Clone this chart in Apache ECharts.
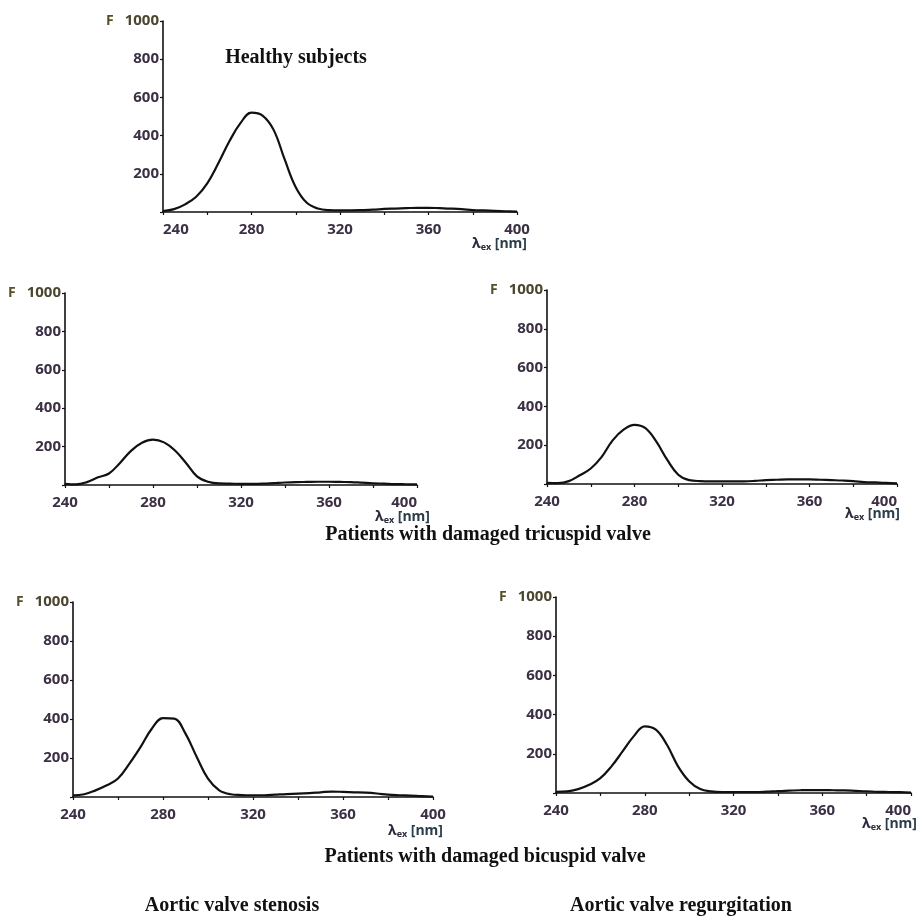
<!DOCTYPE html>
<html>
<head>
<meta charset="utf-8">
<style>
  html, body { margin: 0; padding: 0; background: #ffffff; }
  #chart { width: 919px; height: 918px; }
</style>
<script src="https://cdn.jsdelivr.net/npm/echarts@6/dist/echarts.min.js"></script>
</head>
<body>
<div id="chart"></div>
<script>
// Excitation wavelengths (nm)
const wavelengths = [240,245,250,255,260,265,270,275,280,285,290,295,300,305,310,315,320,325,330,335,340,345,350,355,360,365,370,375,380,385,390,395,400];

// Fluorescence intensity F for each panel
const healthy      = [5,15,40,80,150,255,370,465,520,505,430,275,130,48,18,10,9,9,10,12,16,18,20,22,22,20,18,15,10,8,6,4,2];
const tricuspidA   = [6,3,15,40,60,115,178,220,236,222,180,115,45,17,8,7,6,6,7,10,13,15,16,17,17,16,15,12,9,7,5,4,3];
const tricuspidB   = [6,5,15,45,80,140,225,280,305,288,218,124,48,20,15,14,14,14,14,16,20,22,24,24,24,22,20,18,15,10,8,6,3];
const stenosis     = [8,14,34,60,95,170,256,350,405,402,325,205,94,34,14,10,9,9,12,15,17,20,24,28,26,24,22,18,12,9,7,4,2];
const regurgitation= [6,8,20,42,76,136,212,289,340,323,246,136,60,20,8,5,5,5,5,7,10,12,14,15,15,14,13,11,9,6,5,4,2];

// Axis settings / tick labels
const xMin = 240, xMax = 400, xStep = 40;
const yMin = 0, yMax = 1000, yStep = 200;
const yAxisName = 'F';

// Titles
const titles = [
  { text: 'Healthy subjects', x: 296, y: 58 },
  { text: 'Patients with damaged tricuspid valve', x: 488, y: 535 },
  { text: 'Patients with damaged bicuspid valve', x: 485, y: 857 },
  { text: 'Aortic valve stenosis', x: 232, y: 906 },
  { text: 'Aortic valve regurgitation', x: 681, y: 906 }
];

const panelSeries = [healthy, tricuspidA, tricuspidB, stenosis, regurgitation];

// Layout (styling only)
const grids = [
  { left: 163, top: 21, width: 354, height: 191 },
  { left: 65, top: 293, width: 352, height: 192 },
  { left: 547, top: 290, width: 350, height: 194 },
  { left: 73, top: 602, width: 360, height: 195 },
  { left: 556, top: 597, width: 355, height: 196 }
];
const nameGaps = [10, 13, 3, 10, 6];
const namePadTop = [25, 25, 23, 27, 24];
const alignMin = [true, false, false, false, false];
const alignMax = [false, true, true, false, true];

const labelColor = '#3b3044';
const labelFont = { fontFamily: 'Open Sans', fontWeight: 'bold', fontSize: 15, color: labelColor };

const xAxes = grids.map((g, i) => ({
  gridIndex: i,
  type: 'value',
  min: xMin, max: xMax, interval: xStep,
  axisLine: { show: true, onZero: false, lineStyle: { color: '#111', width: 1.6 } },
  axisTick: { show: true, length: 3, lineStyle: { color: '#111', width: 1.2 } },
  minorTick: { show: true, splitNumber: 2, length: 3, lineStyle: { color: '#111', width: 1.2 } },
  splitLine: { show: false },
  axisLabel: Object.assign({
    margin: 10,
    alignMinLabel: alignMin[i] ? 'left' : 'center',
    alignMaxLabel: alignMax[i] ? 'right' : 'center'
  }, labelFont),
  name: '{l|λ}{s|ex}{n| [nm]}',
  nameLocation: 'end',
  nameGap: nameGaps[i],
  nameMoveOverlap: false,
  nameTextStyle: {
    align: 'right', verticalAlign: 'top', padding: [namePadTop[i], 0, 0, 0],
    rich: {
      l: { fontFamily: 'Open Sans', fontWeight: 'bold', fontSize: 14, color: '#2a2a3a' },
      s: { fontFamily: 'Open Sans', fontWeight: 'bold', fontSize: 9, color: '#2a2a3a', verticalAlign: 'bottom', padding: [6, 0, 0, 0] },
      n: { fontFamily: 'Open Sans', fontWeight: 'bold', fontSize: 14, color: '#2a3d4a' }
    }
  }
}));

const yAxes = grids.map((g, i) => ({
  gridIndex: i,
  type: 'value',
  min: yMin, max: yMax, interval: yStep,
  axisLine: { show: true, onZero: false, lineStyle: { color: '#111', width: 1.6 } },
  axisTick: { show: true, length: 3, lineStyle: { color: '#111', width: 1.2 } },
  splitLine: { show: false },
  axisLabel: Object.assign({
    margin: 4,
    formatter: v => v === yMin ? '' : (v === yMax ? '{f|' + yAxisName + '}{v|' + v + '}' : String(v)),
    rich: {
      f: { fontFamily: 'Open Sans', fontWeight: 'bold', fontSize: 14, color: '#55502a', padding: [0, 11, 0, 0] },
      v: { fontFamily: 'Open Sans', fontWeight: 'bold', fontSize: 15, color: '#4a4630' }
    }
  }, labelFont)
}));

const series = panelSeries.map((vals, i) => ({
  type: 'line',
  xAxisIndex: i, yAxisIndex: i,
  data: wavelengths.map((w, k) => [w, vals[k]]),
  smooth: 0.4,
  symbol: 'none',
  lineStyle: { color: '#111', width: 2.2 },
  silent: true
}));

const graphic = titles.map(t => ({
  type: 'text',
  x: t.x, y: t.y,
  style: {
    text: t.text,
    fill: '#111',
    font: 'bold 20px "Liberation Serif", "Times New Roman", serif',
    align: 'center', verticalAlign: 'middle',
    textAlign: 'center', textVerticalAlign: 'middle'
  }
}));

const chart = echarts.init(document.getElementById('chart'), null, { renderer: 'canvas' });
chart.setOption({
  backgroundColor: '#ffffff',
  animation: false,
  grid: grids.map(g => Object.assign({ containLabel: false, outerBoundsMode: 'none' }, g)),
  xAxis: xAxes,
  yAxis: yAxes,
  series: series,
  graphic: graphic
});
</script>
</body>
</html>
